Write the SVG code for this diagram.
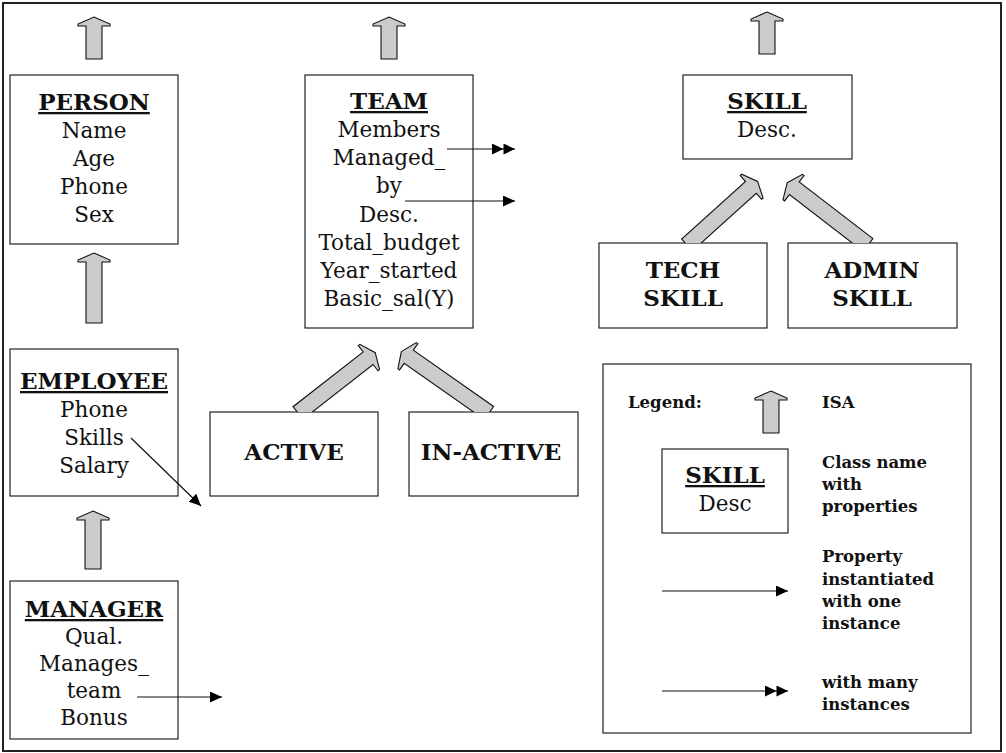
<svg xmlns="http://www.w3.org/2000/svg" width="1006" height="753" viewBox="0 0 1006 753">
<style>
.box{fill:#fff;stroke:#222;stroke-width:1.2}
.t{font-family:"DejaVu Serif","Liberation Serif",serif;font-size:21.5px;fill:#111;text-anchor:middle}
.h{font-weight:bold;text-decoration:underline;font-size:23px}
.b{font-weight:bold;font-size:23px}
.lg{font-family:"DejaVu Serif","Liberation Serif",serif;font-size:16.5px;font-weight:bold;fill:#111}
.isa{fill:#cbcbcb;stroke:#111;stroke-width:1.1;stroke-linejoin:miter}
.prop{stroke:#111;stroke-width:1.2;fill:none}
</style>
<defs>
<marker id="one" markerUnits="userSpaceOnUse" markerWidth="12" markerHeight="11" refX="12" refY="5.5" orient="auto">
<path d="M0,0 L12,5.5 L0,11 Z" fill="#000"/>
</marker>
<marker id="many" markerUnits="userSpaceOnUse" markerWidth="23" markerHeight="11" refX="23" refY="5.5" orient="auto">
<path d="M0,0 L11.5,5.5 L0,11 Z M11.5,0 L23,5.5 L11.5,11 Z" fill="#000"/>
</marker>
<clipPath id="clipTeam"><rect x="0" y="0" width="1006" height="412"/></clipPath>
<clipPath id="clipSkill"><rect x="0" y="0" width="1006" height="243"/></clipPath>
</defs>
<rect x="3" y="3" width="998" height="748" fill="#fff" stroke="#222" stroke-width="2"/>

<g id="person">
<rect class="box" x="10" y="75" width="168" height="169"/>
<text class="t h" x="94" y="110">PERSON</text>
<text class="t" x="94" y="138">Name</text>
<text class="t" x="94" y="166">Age</text>
<text class="t" x="94" y="194">Phone</text>
<text class="t" x="94" y="222">Sex</text>
</g>
<g id="employee">
<rect class="box" x="10" y="349" width="168" height="147"/>
<text class="t h" x="94" y="389">EMPLOYEE</text>
<text class="t" x="94" y="417">Phone</text>
<text class="t" x="94" y="445">Skills</text>
<text class="t" x="94" y="473">Salary</text>
</g>
<g id="manager">
<rect class="box" x="10" y="581" width="168" height="158"/>
<text class="t h" x="94" y="617">MANAGER</text>
<text class="t" x="94" y="644">Qual.</text>
<text class="t" x="94" y="671">Manages_</text>
<text class="t" x="94" y="698">team</text>
<text class="t" x="94" y="725">Bonus</text>
</g>
<g id="team">
<rect class="box" x="305" y="75" width="168" height="253"/>
<text class="t h" x="389" y="109">TEAM</text>
<text class="t" x="389" y="137">Members</text>
<text class="t" x="389" y="165">Managed_</text>
<text class="t" x="389" y="193">by</text>
<text class="t" x="389" y="222">Desc.</text>
<text class="t" x="389" y="250">Total_budget</text>
<text class="t" x="389" y="278">Year_started</text>
<text class="t" x="389" y="306">Basic_sal(Y)</text>
</g>
<g id="active">
<rect class="box" x="210" y="412" width="168" height="84"/>
<text class="t b" x="294" y="460">ACTIVE</text>
</g>
<g id="inactive">
<rect class="box" x="409" y="412" width="169" height="84"/>
<text class="t b" x="491" y="460">IN-ACTIVE</text>
</g>
<g id="skill">
<rect class="box" x="683" y="75" width="169" height="84"/>
<text class="t h" x="767" y="109">SKILL</text>
<text class="t" x="767" y="137">Desc.</text>
</g>
<g id="techskill">
<rect class="box" x="599" y="243" width="168" height="85"/>
<text class="t b" x="683" y="278">TECH</text>
<text class="t b" x="683" y="306">SKILL</text>
</g>
<g id="adminskill">
<rect class="box" x="788" y="243" width="169" height="85"/>
<text class="t b" x="872" y="278">ADMIN</text>
<text class="t b" x="872" y="306">SKILL</text>
</g>
<g id="legend">
<rect class="box" x="603" y="364" width="368" height="369"/>
<text class="lg" x="628" y="408">Legend:</text>
<text class="lg" x="822" y="408">ISA</text>
<rect class="box" x="662" y="449" width="126" height="84"/>
<text class="t h" x="725" y="483">SKILL</text>
<text class="t" x="725" y="511">Desc</text>
<text class="lg" x="822" y="468">Class name</text>
<text class="lg" x="822" y="490">with</text>
<text class="lg" x="822" y="512">properties</text>
<text class="lg" x="822" y="562">Property</text>
<text class="lg" x="822" y="585">instantiated</text>
<text class="lg" x="822" y="607">with one</text>
<text class="lg" x="822" y="629">instance</text>
<text class="lg" x="822" y="688">with many</text>
<text class="lg" x="822" y="710">instances</text>
</g>

<g id="connectors">
<path class="isa" d="M94,17 L110,24 L110,26 L102,26 L102,59 L86,59 L86,26 L78,26 L78,24 Z"/>
<path class="isa" d="M94,253 L110,260 L110,262 L102,262 L102,323 L86,323 L86,262 L78,262 L78,260 Z"/>
<path class="isa" d="M93,511 L109,518 L109,520 L101,520 L101,569 L85,569 L85,520 L77,520 L77,518 Z"/>
<path class="isa" d="M389,17 L405,24 L405,26 L397,26 L397,59 L381,59 L381,26 L373,26 L373,24 Z"/>
<path class="isa" d="M767,12 L783,19 L783,21 L775,21 L775,54 L759,54 L759,21 L751,21 L751,19 Z"/>
<path class="isa" d="M771,391 L787,398 L787,400 L779,400 L779,433 L763,433 L763,400 L755,400 L755,398 Z"/>
<g clip-path="url(#clipTeam)">
<path class="isa" transform="translate(298,413) rotate(52)" d="M0,-98 L16,-91 L16,-89 L8,-89 L8,0 L-8,0 L-8,-89 L-16,-89 L-16,-91 Z"/>
<path class="isa" transform="translate(489,413) rotate(-55)" d="M0,-107 L16,-100 L16,-98 L8,-98 L8,0 L-8,0 L-8,-98 L-16,-98 L-16,-100 Z"/>
</g>
<g clip-path="url(#clipSkill)">
<path class="isa" transform="translate(687,245) rotate(48)" d="M0,-95 L16,-88 L16,-86 L8,-86 L8,0 L-8,0 L-8,-86 L-16,-86 L-16,-88 Z"/>
<path class="isa" transform="translate(868,245) rotate(-52.4)" d="M0,-102 L16,-95 L16,-93 L8,-93 L8,0 L-8,0 L-8,-93 L-16,-93 L-16,-95 Z"/>
</g>
<line class="prop" x1="447" y1="149" x2="515" y2="149" marker-end="url(#many)"/>
<line class="prop" x1="405" y1="201" x2="515" y2="201" marker-end="url(#one)"/>
<line class="prop" x1="131" y1="438" x2="201" y2="506" marker-end="url(#one)"/>
<line class="prop" x1="137" y1="697" x2="222" y2="697" marker-end="url(#one)"/>
<line class="prop" x1="662" y1="591" x2="788" y2="591" marker-end="url(#one)"/>
<line class="prop" x1="662" y1="691" x2="788" y2="691" marker-end="url(#many)"/>
</g>
</svg>
